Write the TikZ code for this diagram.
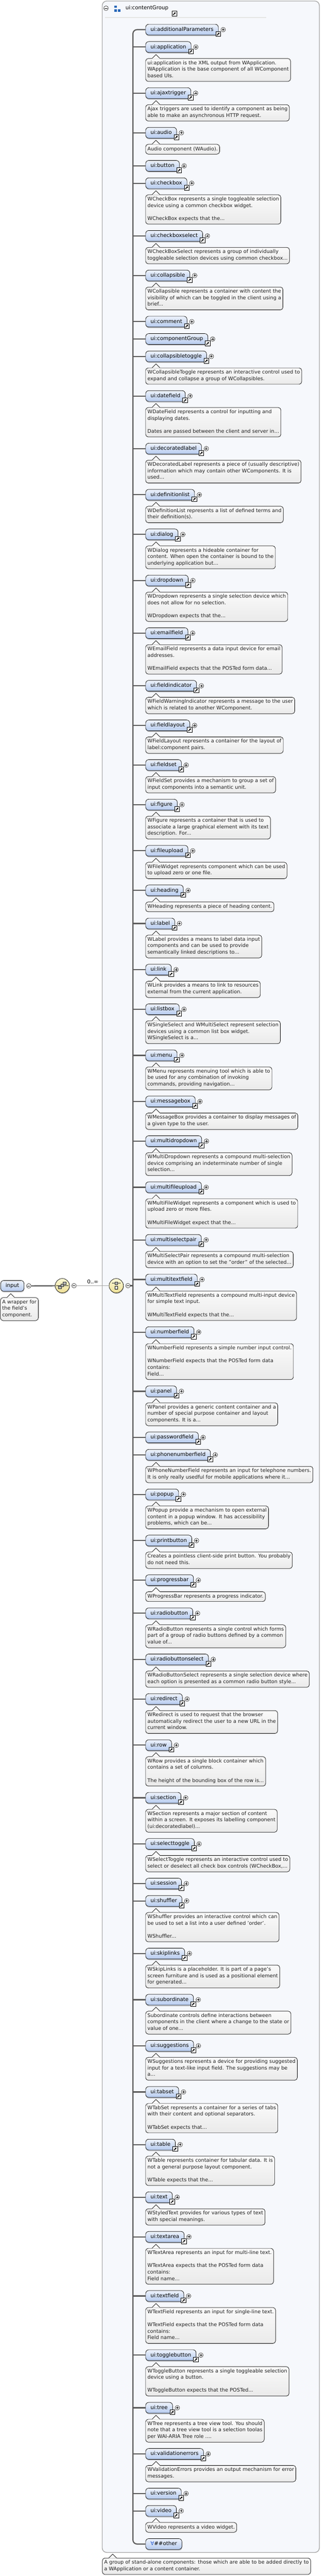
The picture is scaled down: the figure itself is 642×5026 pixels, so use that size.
\documentclass[tikz,border=0pt]{standalone}
\usepackage{fontspec}
\setmainfont{DejaVu Sans}
\usepackage{tikz}
\usetikzlibrary{arrows.meta, shadows}

\definecolor{groupfill}{HTML}{F6F8FC}
\definecolor{groupline}{HTML}{A8A8A8}
\definecolor{elemtop}{HTML}{EEF3FC}
\definecolor{elembot}{HTML}{B6CBEF}
\definecolor{desctop}{HTML}{FAFAFA}
\definecolor{descbot}{HTML}{EAEAEA}
\definecolor{comptop}{HTML}{FDF9D6}
\definecolor{compbot}{HTML}{EEDF96}
\definecolor{spinegray}{HTML}{5A5A5A}
\definecolor{groupblue}{HTML}{2767B8}
\definecolor{anyblue}{HTML}{2A5BD0}

\newcommand{\elemfont}{\fontsize{10.3}{12.7}\selectfont}
\newcommand{\descfont}{\fontsize{9.8}{12.7}\selectfont}

\tikzset{
  elem/.style={draw=black, line width=0.7pt, rounded corners=6pt, top color=elemtop, bottom color=elembot,
    minimum height=21pt, inner xsep=9.5pt, inner ysep=0pt, text height=7.8pt, text depth=2.2pt,
    font=\elemfont, anchor=north west,
    drop shadow={shadow xshift=0.6pt, shadow yshift=-2.2pt, fill=black, opacity=0.22}},
  desc/.style={draw=black, line width=0.7pt, rounded corners=5pt, top color=desctop, bottom color=descbot,
    align=left, inner xsep=3.5pt, inner ysep=3.25pt, font=\descfont, text=black!88, anchor=north west,
    execute at begin node=\strut, execute at end node=\strut},
  descline/.style={draw=black, line width=0.7pt},
  branch/.style={draw=spinegray, line width=2.2pt},
  refline/.style={draw=black!35, line width=0.9pt},
  plussign/.style={circle, draw, fill=white, line width=0.5pt, minimum size=9pt, inner sep=0pt,
    path picture={\draw[line width=0.6pt] ([xshift=-2.6pt]path picture bounding box.center) -- ([xshift=2.6pt]path picture bounding box.center)
      ([yshift=-2.6pt]path picture bounding box.center) -- ([yshift=2.6pt]path picture bounding box.center);}},
  minussign/.style={circle, draw, fill=white, line width=0.5pt, minimum size=9pt, inner sep=0pt,
    path picture={\draw[line width=0.6pt] ([xshift=-2.6pt]path picture bounding box.center) -- ([xshift=2.6pt]path picture bounding box.center);}},
  linkbox/.style={draw, fill=white, line width=0.7pt, minimum size=9.5pt, inner sep=0pt},
  linkarrow/.style={line width=1.4pt, -{Latex[length=3.4pt, width=3.8pt]}},
  compositor/.style={circle, draw=black, line width=0.7pt, minimum size=28pt, inner sep=0pt,
    top color=comptop, bottom color=compbot,
    drop shadow={shadow xshift=0.8pt, shadow yshift=-1.8pt, fill=black, opacity=0.22}},
  iconsq/.style={draw=black!80, line width=0.5pt, fill=gray!60}
}

% running top of the next element row
\newcommand{\elemy}{47}

% shortcut arrow under the right end of an element
\newcommand{\uilink}[1]{%
  \node[linkbox] (#1l) at ([xshift=-0.7pt,yshift=-8.5pt]#1.east) {};
  \draw[linkarrow] ([shift={(-2.6pt,-2.6pt)}]#1l.center) -- ([shift={(2.8pt,2.8pt)}]#1l.center);}

% pointer of a documentation balloon
\newcommand{\uipointer}[1]{%
  \fill[desctop] ([xshift=13pt,yshift=-0.7pt]#1.north west) -- ([xshift=13pt]#1.north west)
    -- ([xshift=20.5pt,yshift=7.5pt]#1.north west) -- ([xshift=28pt]#1.north west)
    -- ([xshift=28pt,yshift=-0.7pt]#1.north west) -- cycle;
  \draw[descline] ([xshift=13pt]#1.north west) -- ([xshift=20.5pt,yshift=7.5pt]#1.north west) -- ([xshift=28pt]#1.north west);}

% element of the choice
\newcommand{\uielem}[3][branch]{%
  \node[elem] (#2) at (284,\elemy) {#3};
  \draw[#1] (#2.west -| chx) -- (#2.west);
  \node[plussign] (#2p) at ([xshift=9pt]#2.east) {};
  \uilink{#2}
  \pgfmathparse{\elemy+33.9}\xdef\elemy{\pgfmathresult}}

% documentation of the element above, #2 = lines
\newcommand{\uidesc}[3]{%
  \node[desc, minimum height={12.7*#2+6.5}] (#1d) at (284,{\elemy-0.9}) {#3};
  \uipointer{#1d}
  \pgfmathparse{\elemy+12.7*#2+18}\xdef\elemy{\pgfmathresult}}

\begin{document}
\begin{tikzpicture}[x=1pt, y=-1pt]
	\useasboundingbox (0,0) rectangle (642,5026);
	\fill[white] (0,0) rectangle (642,5026);

	% group box
	\draw[draw=groupline, line width=1.4pt, fill=groupfill, rounded corners=9pt] (199.5,2) rectangle (623.5,4980);
	\coordinate (chx) at (259.5,0);

	% group header
	\node[minussign] (groupm) at (207,16) {};
	\fill[groupblue] (223,11) rectangle (228,15.5);
	\fill[groupblue] (223,18.3) rectangle (228,22.8);
	\fill[groupblue] (230,18.3) rectangle (235,22.8);
	\node[anchor=west, inner sep=0pt, font=\elemfont] (grouptitle) at (245,16) {ui:contentGroup};
	\node[linkbox] (grouptitlel) at (340.5,26.5) {};
	\draw[linkarrow] ([shift={(-2.6pt,-2.6pt)}]grouptitlel.center) -- ([shift={(2.8pt,2.8pt)}]grouptitlel.center);
	\draw[black!10, line width=2pt] (205,34) -- (520,34);

	% elements
	\uielem[draw=none]{additionalParameters}{ui:additionalParameters}
	\uielem{application}{ui:application}
	\uidesc{application}{3}{ui:application is the XML output from WApplication.\\WApplication is the base component of all WComponent\\based UIs.}
	\uielem{ajaxtrigger}{ui:ajaxtrigger}
	\uidesc{ajaxtrigger}{2}{Ajax triggers are used to identify a component as being\\able to make an asynchronous HTTP request.}
	\uielem{audio}{ui:audio}
	\uidesc{audio}{1}{Audio component (WAudio).}
	\uielem{button}{ui:button}
	\uielem{checkbox}{ui:checkbox}
	\uidesc{checkbox}{4}{WCheckBox represents a single toggleable selection\\device using a common checkbox widget.\\ \\WCheckBox expects that the...}
	\uielem{checkboxselect}{ui:checkboxselect}
	\uidesc{checkboxselect}{2}{WCheckBoxSelect represents a group of individually\\toggleable selection devices using common checkbox...}
	\uielem{collapsible}{ui:collapsible}
	\uidesc{collapsible}{3}{WCollapsible represents a container with content the\\visibility of which can be toggled in the client using a\\brief...}
	\uielem{comment}{ui:comment}
	\uielem{componentGroup}{ui:componentGroup}
	\uielem{collapsibletoggle}{ui:collapsibletoggle}
	\uidesc{collapsibletoggle}{2}{WCollapsibleToggle represents an interactive control used to\\expand and collapse a group of WCollapsibles.}
	\uielem{datefield}{ui:datefield}
	\uidesc{datefield}{4}{WDateField represents a control for inputting and\\displaying dates.\\ \\Dates are passed between the client and server in...}
	\uielem{decoratedlabel}{ui:decoratedlabel}
	\uidesc{decoratedlabel}{3}{WDecoratedLabel represents a piece of (usually descriptive)\\information which may contain other WComponents. It is\\used...}
	\uielem{definitionlist}{ui:definitionlist}
	\uidesc{definitionlist}{2}{WDefinitionList represents a list of defined terms and\\their definition(s).}
	\uielem{dialog}{ui:dialog}
	\uidesc{dialog}{3}{WDialog represents a hideable container for\\content. When open the container is bound to the\\underlying application but...}
	\uielem{dropdown}{ui:dropdown}
	\uidesc{dropdown}{4}{WDropdown represents a single selection device which\\does not allow for no selection.\\ \\WDropdown expects that the...}
	\uielem{emailfield}{ui:emailfield}
	\uidesc{emailfield}{4}{WEmailField represents a data input device for email\\addresses.\\ \\WEmailField expects that the POSTed form data...}
	\uielem{fieldindicator}{ui:fieldindicator}
	\uidesc{fieldindicator}{2}{WFieldWarningIndicator represents a message to the user\\which is related to another WComponent.}
	\uielem{fieldlayout}{ui:fieldlayout}
	\uidesc{fieldlayout}{2}{WFieldLayout represents a container for the layout of\\label:component pairs.}
	\uielem{fieldset}{ui:fieldset}
	\uidesc{fieldset}{2}{WFieldSet provides a mechanism to group a set of\\input components into a semantic unit.}
	\uielem{figure}{ui:figure}
	\uidesc{figure}{3}{WFigure represents a container that is used to\\associate a large graphical element with its text\\description. For...}
	\uielem{fileupload}{ui:fileupload}
	\uidesc{fileupload}{2}{WFileWidget represents component which can be used\\to upload zero or one file.}
	\uielem{heading}{ui:heading}
	\uidesc{heading}{1}{WHeading represents a piece of heading content.}
	\uielem{label}{ui:label}
	\uidesc{label}{3}{WLabel provides a means to label data input\\components and can be used to provide\\semantically linked descriptions to...}
	\uielem{link}{ui:link}
	\uidesc{link}{2}{WLink provides a means to link to resources\\external from the current application.}
	\uielem{listbox}{ui:listbox}
	\uidesc{listbox}{3}{WSingleSelect and WMultiSelect represent selection\\devices using a common list box widget.\\WSingleSelect is a...}
	\uielem{menu}{ui:menu}
	\uidesc{menu}{3}{WMenu represents menuing tool which is able to\\be used for any combination of invoking\\commands, providing navigation...}
	\uielem{messagebox}{ui:messagebox}
	\uidesc{messagebox}{2}{WMessageBox provides a container to display messages of\\a given type to the user.}
	\uielem{multidropdown}{ui:multidropdown}
	\uidesc{multidropdown}{3}{WMultiDropdown represents a compound multi-selection\\device comprising an indeterminate number of single\\selection...}
	\uielem{multifileupload}{ui:multifileupload}
	\uidesc{multifileupload}{4}{WMultiFileWidget represents a component which is used to\\upload zero or more files.\\ \\WMultiFileWidget expect that the...}
	\uielem{multiselectpair}{ui:multiselectpair}
	\uidesc{multiselectpair}{2}{WMultiSelectPair represents a compound multi-selection\\device with an option to set the "order" of the selected...}
	\uielem{multitextfield}{ui:multitextfield}
	\uidesc{multitextfield}{4}{WMultiTextField represents a compound multi-input device\\for simple text input.\\ \\WMultiTextField expects that the...}
	\uielem{numberfield}{ui:numberfield}
	\uidesc{numberfield}{5}{WNumberField represents a simple number input control.\\ \\WNumberField expects that the POSTed form data\\contains:\\Field...}
	\uielem{panel}{ui:panel}
	\uidesc{panel}{3}{WPanel provides a generic content container and a\\number of special purpose container and layout\\components. It is a...}
	\uielem{passwordfield}{ui:passwordfield}
	\uielem{phonenumberfield}{ui:phonenumberfield}
	\uidesc{phonenumberfield}{2}{WPhoneNumberField represents an input for telephone numbers.\\It is only really usedful for mobile applications where it...}
	\uielem{popup}{ui:popup}
	\uidesc{popup}{3}{WPopup provide a mechanism to open external\\content in a popup window. It has accessibility\\problems, which can be...}
	\uielem{printbutton}{ui:printbutton}
	\uidesc{printbutton}{2}{Creates a pointless client-side print button. You probably\\do not need this.}
	\uielem{progressbar}{ui:progressbar}
	\uidesc{progressbar}{1}{WProgressBar represents a progress indicator.}
	\uielem{radiobutton}{ui:radiobutton}
	\uidesc{radiobutton}{3}{WRadioButton represents a single control which forms\\part of a group of radio buttons defined by a common\\value of...}
	\uielem{radiobuttonselect}{ui:radiobuttonselect}
	\uidesc{radiobuttonselect}{2}{WRadioButtonSelect represents a single selection device where\\each option is presented as a common radio button style...}
	\uielem{redirect}{ui:redirect}
	\uidesc{redirect}{3}{WRedirect is used to request that the browser\\automatically redirect the user to a new URL in the\\current window.}
	\uielem{row}{ui:row}
	\uidesc{row}{4}{WRow provides a single block container which\\contains a set of columns.\\ \\The height of the bounding box of the row is...}
	\uielem{section}{ui:section}
	\uidesc{section}{3}{WSection represents a major section of content\\within a screen. It exposes its labelling component\\(ui:decoratedlabel)...}
	\uielem{selecttoggle}{ui:selecttoggle}
	\uidesc{selecttoggle}{2}{WSelectToggle represents an interactive control used to\\select or deselect all check box controls (WCheckBox,...}
	\uielem{session}{ui:session}
	\uielem{shuffler}{ui:shuffler}
	\uidesc{shuffler}{4}{WShuffler provides an interactive control which can\\be used to set a list into a user defined 'order'.\\ \\WShuffler...}
	\uielem{skiplinks}{ui:skiplinks}
	\uidesc{skiplinks}{3}{WSkipLinks is a placeholder. It is part of a page's\\screen furniture and is used as a positional element\\for generated...}
	\uielem{subordinate}{ui:subordinate}
	\uidesc{subordinate}{3}{Subordinate controls define interactions between\\components in the client where a change to the state or\\value of one...}
	\uielem{suggestions}{ui:suggestions}
	\uidesc{suggestions}{3}{WSuggestions represents a device for providing suggested\\input for a text-like input field. The suggestions may be\\a...}
	\uielem{tabset}{ui:tabset}
	\uidesc{tabset}{4}{WTabSet represents a container for a series of tabs\\with their content and optional separators.\\ \\WTabSet expects that...}
	\uielem{table}{ui:table}
	\uidesc{table}{4}{WTable represents container for tabular data. It is\\not a general purpose layout component.\\ \\WTable expects that the...}
	\uielem{text}{ui:text}
	\uidesc{text}{2}{WStyledText provides for various types of text\\with special meanings.}
	\uielem{textarea}{ui:textarea}
	\uidesc{textarea}{5}{WTextArea represents an input for multi-line text.\\ \\WTextArea expects that the POSTed form data\\contains:\\Field name...}
	\uielem{textfield}{ui:textfield}
	\uidesc{textfield}{5}{WTextField represents an input for single-line text.\\ \\WTextField expects that the POSTed form data\\contains:\\Field name...}
	\uielem{togglebutton}{ui:togglebutton}
	\uidesc{togglebutton}{4}{WToggleButton represents a single toggleable selection\\device using a button.\\ \\WToggleButton expects that the POSTed...}
	\uielem{tree}{ui:tree}
	\uidesc{tree}{3}{WTree represents a tree view tool. You should\\note that a tree view tool is a selection toolas\\per WAI-ARIA Tree role ....}
	\uielem{validationerrors}{ui:validationerrors}
	\uidesc{validationerrors}{2}{WValidationErrors provides an output mechanism for error\\messages.}
	\uielem{version}{ui:version}
	\uielem{video}{ui:video}
	\uidesc{video}{1}{WVideo represents a video widget.}
	\node[elem] (other) at (284,\elemy) {{\color{anyblue}∀}\#\#other};

	% choice spine
	\draw[branch, rounded corners=8pt] (additionalParameters.west) -- (additionalParameters.west -| chx) -- (other.west -| chx) -- (other.west);

	% group documentation
	\node[desc, minimum height=31.9] (groupd) at (199.5,4990.7) {A group of stand-alone components: those which are able to be added directly to\\a WApplication or a content container.};
	\uipointer{groupd}

	% input element
	\node[elem] (input) at (1,2498) {input};
	\node[minussign] (inputm) at ([xshift=9pt]input.east) {};
	\node[desc, minimum height=44.6] (inputd) at (0.5,2531.5) {A wrapper for\\the field's\\component.};
	\uipointer{inputd}

	% compositors
	\node[compositor] (seq1) at (121.7,2508.5) {};
	\draw[black!80, line width=0.7pt] (110.5,2508.5) -- (133,2508.5);
	\fill[black!80] (110.5,2508.5) circle (0.9) (133,2508.5) circle (0.9);
	\draw[iconsq] (114,2509) rectangle (119.5,2514.5);
	\draw[iconsq] (118.5,2505) rectangle (124,2510.5);
	\draw[iconsq] (123,2501) rectangle (128.5,2506.5);
	\node[minussign] (seq1m) at ([xshift=8.5pt]seq1.east) {};

	\node[compositor] (choice) at (227,2508.5) {};
	\draw[black!80, line width=0.7pt] (219.5,2503.5) -- (234.5,2503.5);
	\fill[black!80] (219.5,2503.5) circle (0.9) (234.5,2503.5) circle (0.9);
	\draw[iconsq] (224.2,2500.7) rectangle (229.8,2506.3);
	\draw[draw=black, line width=0.6pt, fill=white] (224.2,2509.3) rectangle (229.8,2514.9);
	\node[minussign] (choicem) at ([xshift=8.5pt]choice.east) {};

	% connectors
	\draw[branch] (inputm) -- (seq1);
	\draw[refline] (seq1m) -- (choice) node[midway, above=0.5pt, font=\elemfont] (occurs) {0..∞};
	\draw[branch] (choicem) -- (choicem -| chx);

\end{tikzpicture}
\end{document}
